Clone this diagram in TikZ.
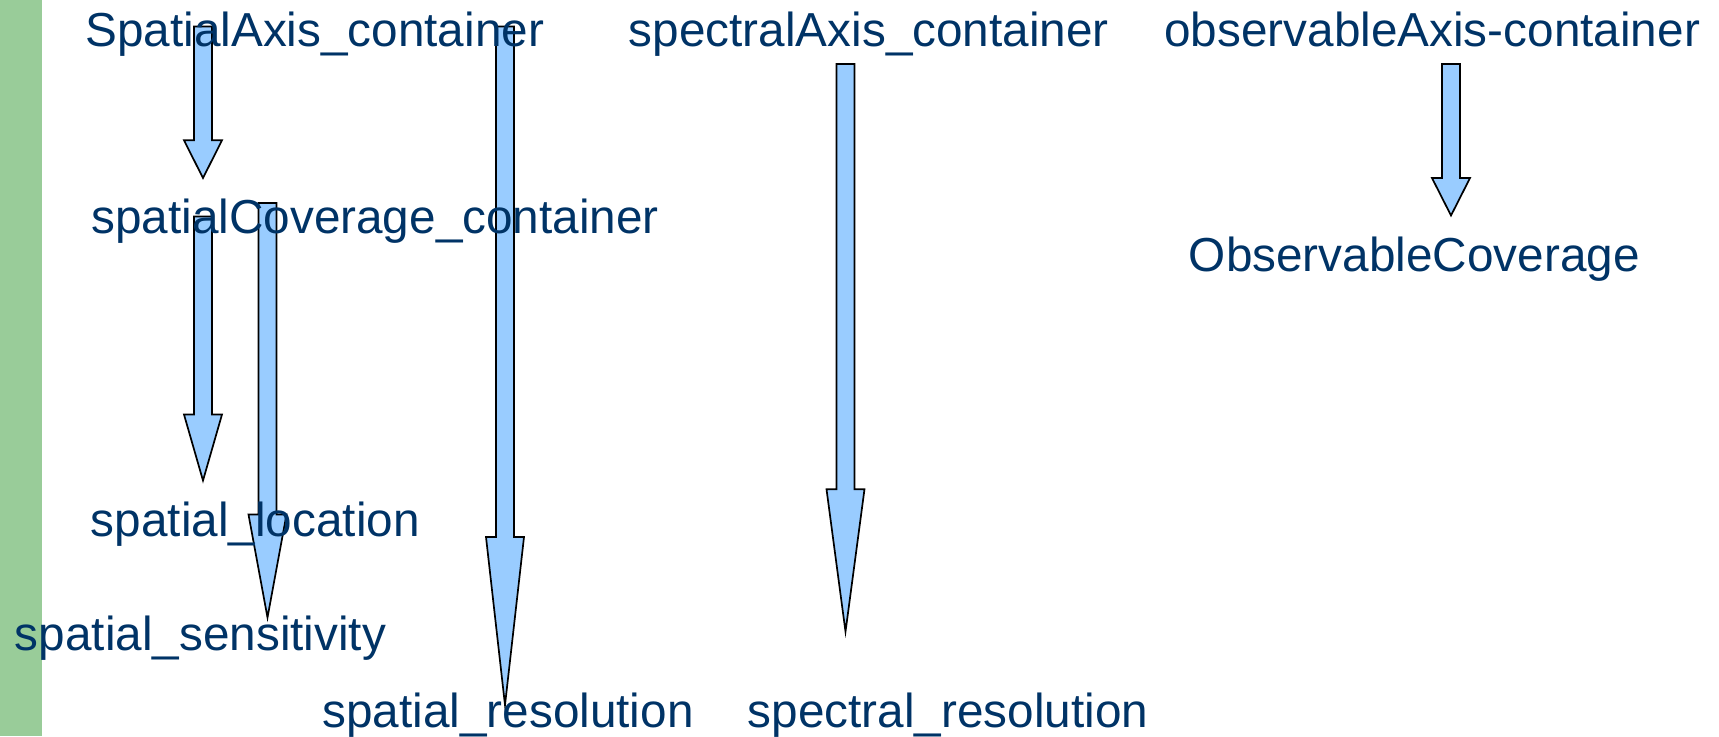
\documentclass[tikz,border=0pt]{standalone}
\usepackage{fontspec}
\setmainfont{Liberation Sans}
\usepackage{tikz}
\usetikzlibrary{calc}

\definecolor{navytext}{RGB}{0,51,102}
\definecolor{arrowblue}{RGB}{153,204,255}
\definecolor{bargreen}{RGB}{153,204,153}

\tikzset{
  lbl/.style={anchor=base west,inner sep=0pt,text=navytext,
    font=\fontsize{23.85}{28}\selectfont},
  blockarrow/.style={draw=black,fill=arrowblue,line width=0.85pt,line join=miter}
}

% block arrow: tail, tip, head length
\newcommand{\blockarr}[3]{%
  \draw[blockarrow] ($(#1)+(-9,0)$) -- ($(#2)+(-9,-#3)$) -- ($(#2)+(-19,-#3)$) -- (#2)
    -- ($(#2)+(19,-#3)$) -- ($(#2)+(9,-#3)$) -- ($(#1)+(9,0)$) -- cycle;}

\begin{document}
\begin{tikzpicture}[x=0.5pt,y=-0.5pt]
\useasboundingbox (0,0) rectangle (1719,736);
\fill[bargreen] (0,0) rectangle (42,736);

\coordinate (a1_s) at (203,26.5);   \coordinate (a1_e) at (203,178);
\coordinate (a2_s) at (505,26.5);   \coordinate (a2_e) at (505,705);
\coordinate (a3_s) at (203,216.5);  \coordinate (a3_e) at (203,480.5);
\coordinate (a4_s) at (267.5,203);  \coordinate (a4_e) at (267.5,617.5);
\coordinate (a5_s) at (845.5,64);   \coordinate (a5_e) at (845.5,631.6);
\coordinate (a6_s) at (1451,64);    \coordinate (a6_e) at (1451,215.5);

\blockarr{a1_s}{a1_e}{37.7}
\blockarr{a2_s}{a2_e}{168}
\blockarr{a3_s}{a3_e}{66}
\blockarr{a4_s}{a4_e}{103}
\blockarr{a5_s}{a5_e}{142.4}
\blockarr{a6_s}{a6_e}{37.5}

\node[lbl] (spAxis)   at (85,46.5)    {SpatialAxis\_container};
\node[lbl] (spCov)    at (91,233.5)   {spatialCoverage\_container};
\node[lbl] (spLoc)    at (90.5,536.5) {spatial\_location};
\node[lbl] (spSens)   at (14.5,650)   {spatial\_sensitivity};
\node[lbl] (spRes)    at (322,727)    {spatial\_resolution};
\node[lbl] (specAxis) at (628.5,46)   {spectralAxis\_container};
\node[lbl] (specRes)  at (747.5,727)  {spectral\_resolution};
\node[lbl] (obsAxis)  at (1164,46)    {observableAxis-container};
\node[lbl] (obsCov)   at (1188.5,271.5) {ObservableCoverage};
\end{tikzpicture}
\end{document}
